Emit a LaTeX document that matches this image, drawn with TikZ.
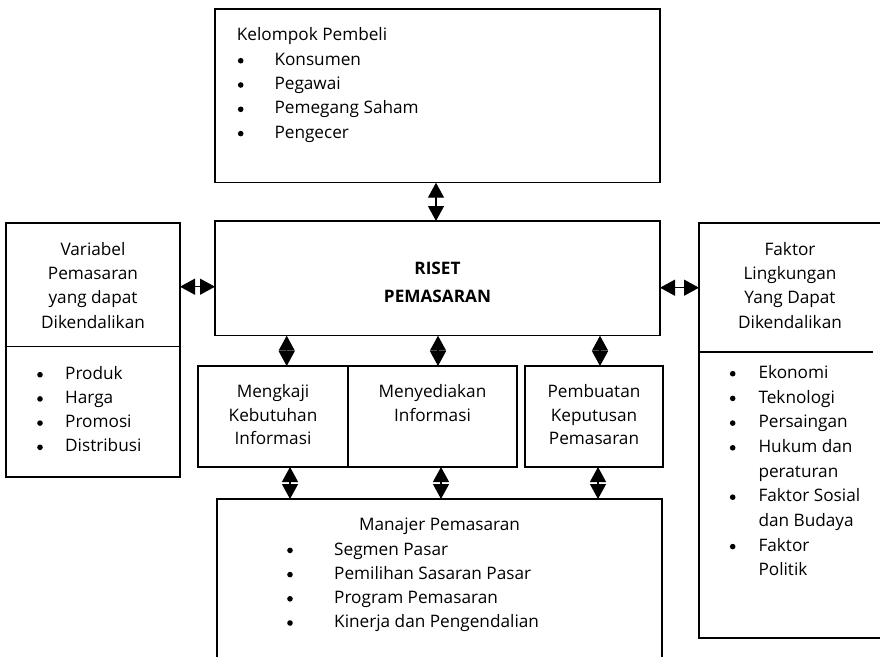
\documentclass[tikz,border=0pt]{standalone}
\usepackage{fontspec}
\setmainfont{Open Sans}
\usetikzlibrary{arrows.meta}

\begin{document}
\begin{tikzpicture}[x=1pt,y=-1pt,
  frame/.style={draw=black,line width=1.4pt,fill=none},
  rule/.style={draw=black,line width=1.4pt},
  txt/.style={inner sep=0pt,font=\fontsize{17.2}{24.4}\selectfont},
  ltxt/.style={txt,anchor=base west},
  ctxt/.style={txt,anchor=base},
  dot/.style={circle,fill=black,inner sep=0pt,minimum size=5.6pt},
  twoway/.style={line width=1.2pt,
    {Triangle[length=15pt,width=16pt]}-{Triangle[length=15pt,width=16pt]}}
]
\useasboundingbox (0,0) rectangle (880,656);
\clip (0,0) rectangle (880,656);

% ---- boxes ----
\coordinate (buyNW) at (215,9);     \coordinate (buySE) at (660,182.7);
\coordinate (rsNW)  at (215,221);   \coordinate (rsSE)  at (660,335.7);
\coordinate (varNW) at (6,223);     \coordinate (varSE) at (180,477);
\coordinate (envNW) at (699,223);   \coordinate (envSE) at (890,638);
\coordinate (m1NW)  at (198,366);   \coordinate (m1SE)  at (348,467);
\coordinate (m2NW)  at (348,366);   \coordinate (m2SE)  at (517,467);
\coordinate (m3NW)  at (525,366);   \coordinate (m3SE)  at (663,467);
\coordinate (mgrNW) at (217,499);   \coordinate (mgrSE) at (662,670);

\draw[frame] (buyNW) rectangle (buySE);
\draw[frame] (rsNW) rectangle (rsSE);
\draw[frame] (varNW) rectangle (varSE);
\draw[frame] (envNW) rectangle (envSE);
\draw[frame] (m1NW) rectangle (m1SE);
\draw[frame] (m2NW) rectangle (m2SE);
\draw[frame] (m3NW) rectangle (m3SE);
\draw[frame] (mgrNW) rectangle (mgrSE);

% dividers inside the side boxes
\coordinate (varDivL) at (6,346.7);   \coordinate (varDivR) at (180,346.7);
\coordinate (envDivL) at (699,352);   \coordinate (envDivR) at (873,352);
\draw[rule] (varDivL) -- (varDivR);
\draw[rule] (envDivL) -- (envDivR);

% ---- Kelompok Pembeli ----
\node[ltxt] (buyTitle) at (236.7,40.7) {Kelompok Pembeli};
\foreach \t [count=\i] in {Konsumen,Pegawai,Pemegang Saham,Pengecer}{
  \node[ltxt] (buy\i) at (274.3,{65.3+24.3*(\i-1)}) {\t};
  \node[dot] (buyDot\i) at (240.7,{65.3+24.3*(\i-1)-4.6}) {};
}

% ---- Riset Pemasaran ----
\node[ctxt,font=\fontsize{17.2}{24.4}\selectfont\bfseries] (rs1) at (437.5,274) {RISET};
\node[ctxt,font=\fontsize{17.2}{24.4}\selectfont\bfseries] (rs2) at (437.5,302.5) {PEMASARAN};

% ---- Variabel Pemasaran ----
\foreach \t [count=\i] in {Variabel,Pemasaran,yang dapat,Dikendalikan}{
  \node[ctxt] (var\i) at (93,{255+24.4*(\i-1)}) {\t};
}
\foreach \t [count=\i] in {Produk,Harga,Promosi,Distribusi}{
  \node[ltxt] (varItem\i) at (65,{379.3+24.2*(\i-1)}) {\t};
  \node[dot] (varDot\i) at (40,{379.3+24.2*(\i-1)-4.6}) {};
}

% ---- Faktor Lingkungan ----
\foreach \t [count=\i] in {Faktor,Lingkungan,Yang Dapat,Dikendalikan}{
  \node[ctxt] (env\i) at (790,{255+24.4*(\i-1)}) {\t};
}
\foreach \t [count=\i] in {Ekonomi,Teknologi,Persaingan,Hukum dan,peraturan,
                           Faktor Sosial,dan Budaya,Faktor,Politik}{
  \node[ltxt] (envItem\i) at (758.3,{378.3+24.7*(\i-1)}) {\t};
}
\foreach \i in {1,2,3,4,6,8}{
  \node[dot] (envDot\i) at (732.7,{378.3+24.7*(\i-1)-4.6}) {};
}

% ---- middle row ----
\foreach \t [count=\i] in {Mengkaji,Kebutuhan,Informasi}{
  \node[ctxt] (m1t\i) at (273,{397.3+23.8*(\i-1)}) {\t};
}
\foreach \t [count=\i] in {Menyediakan,Informasi}{
  \node[ctxt] (m2t\i) at (432.5,{397.3+23.8*(\i-1)}) {\t};
}
\foreach \t [count=\i] in {Pembuatan,Keputusan,Pemasaran}{
  \node[ctxt] (m3t\i) at (594,{397.3+23.8*(\i-1)}) {\t};
}

% ---- Manajer Pemasaran ----
\node[ctxt] (mgrTitle) at (439.5,530.7) {Manajer Pemasaran};
\foreach \t [count=\i] in {Segmen Pasar,Pemilihan Sasaran Pasar,
                           Program Pemasaran,Kinerja dan Pengendalian}{
  \node[ltxt] (mgr\i) at (334,{555+24.2*(\i-1)}) {\t};
  \node[dot] (mgrDot\i) at (290,{555+24.2*(\i-1)-4.6}) {};
}

% ---- two-way connectors ----
\draw[twoway] (buySE -| 436,0) -- (rsNW -| 436,0);
\draw[twoway] (varSE |- 0,286.7) -- (rsNW |- 0,286.7);
\draw[twoway] (rsSE |- 0,287.7) -- (envNW |- 0,287.7);

\draw[twoway] (rsSE -| 286.7,0) -- (m1NW -| 286.7,0);
\draw[twoway] (rsSE -| 438,0)   -- (m2NW -| 438,0);
\draw[twoway] (rsSE -| 600,0)   -- (m3NW -| 600,0);

\draw[twoway] (m1SE -| 290,0) -- (mgrNW -| 290,0);
\draw[twoway] (m2SE -| 441,0) -- (mgrNW -| 441,0);
\draw[twoway] (m3SE -| 598,0) -- (mgrNW -| 598,0);
\end{tikzpicture}
\end{document}
